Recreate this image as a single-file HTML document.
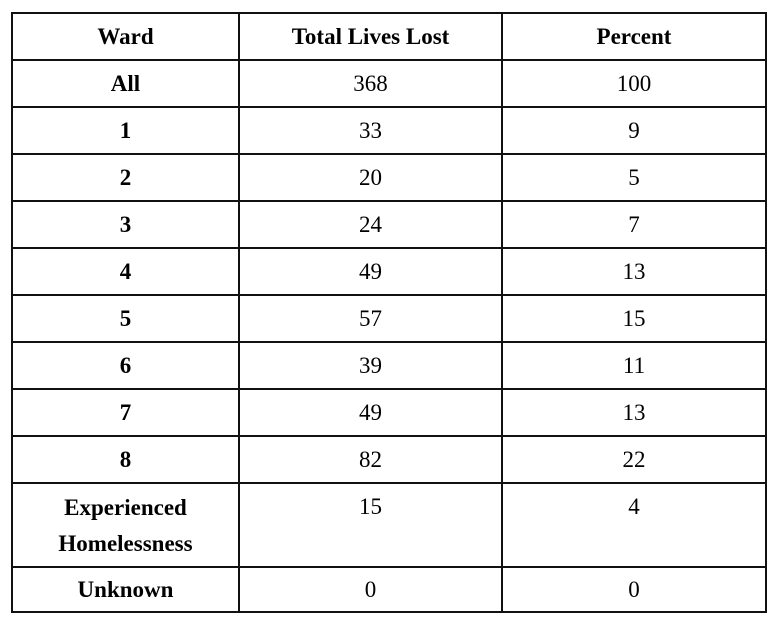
<!DOCTYPE html>
<html><head><style>
body{margin:0;width:780px;height:628px;background:#fff;position:relative;font-family:"Liberation Serif",serif;font-size:23px;color:#000;overflow:hidden}
.h{position:absolute;left:11px;width:756px;height:2px;background:#111}
.v{position:absolute;top:12px;height:601px;width:2px;background:#111}
.t{position:absolute;text-align:center;line-height:24px}
.b{font-weight:bold}
</style></head><body>
<div class="h" style="top:12px"></div>
<div class="h" style="top:59px"></div>
<div class="h" style="top:106px"></div>
<div class="h" style="top:153px"></div>
<div class="h" style="top:200px"></div>
<div class="h" style="top:247px"></div>
<div class="h" style="top:294px"></div>
<div class="h" style="top:341px"></div>
<div class="h" style="top:388px"></div>
<div class="h" style="top:435px"></div>
<div class="h" style="top:482px"></div>
<div class="h" style="top:566px"></div>
<div class="h" style="top:611px"></div>
<div class="v" style="left:11px"></div>
<div class="v" style="left:238px"></div>
<div class="v" style="left:501px"></div>
<div class="v" style="left:765px"></div>

<div class="t b" style="left:13px;width:225px;top:25px">Ward</div>
<div class="t b" style="left:240px;width:261px;top:25px">Total Lives Lost</div>
<div class="t b" style="left:503px;width:262px;top:25px">Percent</div>

<div class="t b" style="left:13px;width:225px;top:72px">All</div>
<div class="t" style="left:240px;width:261px;top:72px">368</div>
<div class="t" style="left:503px;width:262px;top:72px">100</div>

<div class="t b" style="left:13px;width:225px;top:119px">1</div>
<div class="t" style="left:240px;width:261px;top:119px">33</div>
<div class="t" style="left:503px;width:262px;top:119px">9</div>

<div class="t b" style="left:13px;width:225px;top:166px">2</div>
<div class="t" style="left:240px;width:261px;top:166px">20</div>
<div class="t" style="left:503px;width:262px;top:166px">5</div>

<div class="t b" style="left:13px;width:225px;top:213px">3</div>
<div class="t" style="left:240px;width:261px;top:213px">24</div>
<div class="t" style="left:503px;width:262px;top:213px">7</div>

<div class="t b" style="left:13px;width:225px;top:260px">4</div>
<div class="t" style="left:240px;width:261px;top:260px">49</div>
<div class="t" style="left:503px;width:262px;top:260px">13</div>

<div class="t b" style="left:13px;width:225px;top:307px">5</div>
<div class="t" style="left:240px;width:261px;top:307px">57</div>
<div class="t" style="left:503px;width:262px;top:307px">15</div>

<div class="t b" style="left:13px;width:225px;top:354px">6</div>
<div class="t" style="left:240px;width:261px;top:354px">39</div>
<div class="t" style="left:503px;width:262px;top:354px">11</div>

<div class="t b" style="left:13px;width:225px;top:401px">7</div>
<div class="t" style="left:240px;width:261px;top:401px">49</div>
<div class="t" style="left:503px;width:262px;top:401px">13</div>

<div class="t b" style="left:13px;width:225px;top:448px">8</div>
<div class="t" style="left:240px;width:261px;top:448px">82</div>
<div class="t" style="left:503px;width:262px;top:448px">22</div>

<div class="t b" style="left:13px;width:225px;top:490px;line-height:36px">Experienced<br>Homelessness</div>
<div class="t" style="left:240px;width:261px;top:495px">15</div>
<div class="t" style="left:503px;width:262px;top:495px">4</div>

<div class="t b" style="left:13px;width:225px;top:578px">Unknown</div>
<div class="t" style="left:240px;width:261px;top:578px">0</div>
<div class="t" style="left:503px;width:262px;top:578px">0</div>
</body></html>
